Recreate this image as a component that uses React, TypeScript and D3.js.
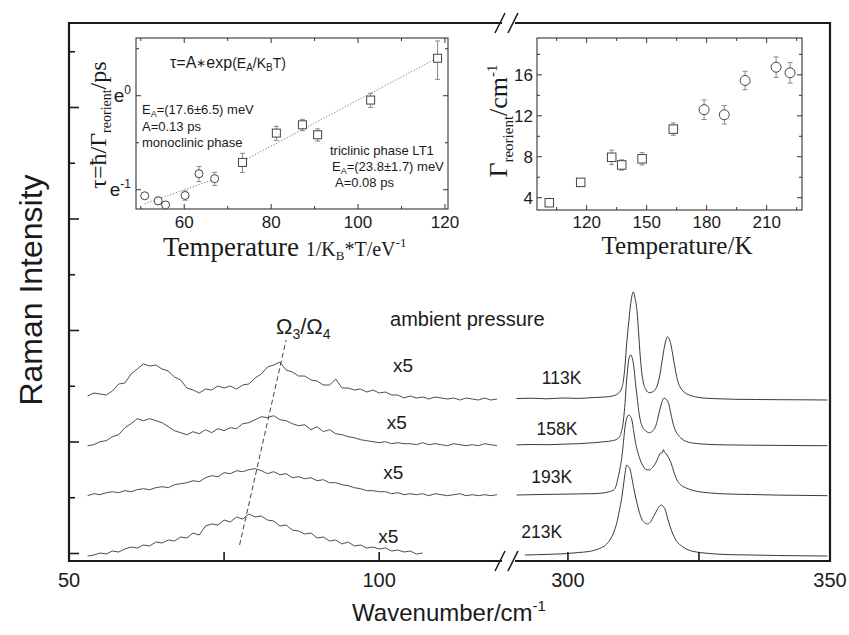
import React, { useEffect, useRef } from "react";
import * as d3 from "d3";

// ---- main panel: Raman spectra (arbitrary intensity units) ----
// low-frequency part, drawn x5, sampled every 1 cm-1
const lowWavenumbers = [
  53, 54, 55, 56, 57, 58, 59, 60, 61, 62, 63, 64, 65, 66, 67, 68, 69, 70, 71, 72,
  73, 74, 75, 76, 77, 78, 79, 80, 81, 82, 83, 84, 85, 86, 87, 88, 89, 90, 91, 92,
  93, 94, 95, 96, 97, 98, 99, 100, 101, 102, 103, 104, 105, 106, 107, 108, 109,
  110, 111, 112, 113, 114, 115, 116, 117, 118, 119,
];
const low113K = [
  4, 7, 6, 5, 9, 16, 17, 26, 31, 36, 34, 35, 31, 29, 23, 20, 12, 10, 7, 11,
  10, 14, 12, 14, 11, 15, 16, 22, 26, 33, 35, 38, 30, 28, 24, 24, 20, 19, 15, 15,
  21, 12, 12, 10, 11, 8, 10, 7, 8, 5, 5, 2, 4, 2, 3, 1, 3, 2, 1, 2, 0, 2, 1, 0, 2, 0, 1,
];
const low158K = [
  0, 1, 4, 5, 9, 11, 18, 22, 27, 25, 27, 25, 23, 19, 15, 13, 11, 14, 12, 16,
  13, 17, 15, 18, 17, 22, 23, 26, 29, 28, 30, 26, 25, 22, 20, 21, 16, 19, 14, 16,
  12, 11, 9, 8, 6, 5, 4, 3, 4, 2, 3, 2, 2, 1, 3, 1, 2, 1, 0, 2, 1, 0, 1, 0, 2, 1, 0,
];
const low193K = [
  0, 2, 1, 3, 4, 3, 5, 4, 6, 7, 6, 8, 9, 8, 11, 12, 13, 15, 14, 18,
  20, 19, 23, 22, 25, 24, 26, 27, 25, 22, 24, 21, 22, 18, 19, 17, 18, 15, 16, 13,
  13, 11, 10, 8, 7, 5, 5, 4, 4, 2, 3, 1, 2, 1, 2, 0, 2, 1, 0, 1, 2, 0, 1, 0, 1, 0, 1,
];
const low213K = [
  -1, 0, 2, 1, 4, 3, 6, 8, 7, 10, 9, 13, 12, 15, 14, 18, 17, 22, 20, 29,
  31, 30, 35, 33, 38, 36, 41, 38, 39, 35, 34, 29, 30, 25, 24, 21, 22, 17, 18, 14,
  15, 11, 13, 9, 10, 7, 8, 6, 7, 4, 5, 3, 4, 1, 2,
];

// high-frequency part: [wavenumber, intensity above the trace baseline]
const high113K = [
  [290.2, 1.5], [293, 1.8], [296, 1.2], [299, 2], [302, 1.6], [305, 2.5], [307, 3], [308.5, 4],
  [309.6, 6.7], [310.2, 11], [310.6, 20], [310.9, 35], [311.2, 56], [311.6, 78], [311.9, 93],
  [312.2, 104], [312.5, 108], [312.8, 102], [313.2, 88], [313.5, 66], [313.8, 43], [314.1, 27],
  [314.4, 17], [314.9, 10], [315.5, 7.3], [316.1, 8], [316.6, 10], [317, 14], [317.5, 24],
  [317.9, 37], [318.3, 50], [318.6, 58], [319, 63], [319.4, 60], [319.7, 54], [320.1, 42],
  [320.5, 30], [321, 18], [321.5, 12], [322.4, 7], [323.4, 4.5], [325, 2.5], [326.6, 1.7],
  [329, 1.2], [332, 0.7], [336, 0.5], [340, 0.3], [345, 0.2], [349.5, 0],
];
const high158K = [
  [290.2, 0.8], [293, 1.2], [296, 1], [299, 1.5], [302, 2], [305, 3], [307, 4], [308.5, 5],
  [309.6, 7.4], [310.2, 14], [310.6, 25.7], [310.9, 43], [311.2, 65.7], [311.5, 82], [311.8, 90],
  [312, 90.7], [312.3, 87], [312.6, 78], [312.9, 62], [313.2, 49], [313.5, 35], [313.8, 25.7],
  [314.3, 18], [314.8, 15], [315.5, 13], [316.1, 14.5], [316.7, 19], [317.1, 26], [317.5, 35.7],
  [317.9, 43], [318.2, 47], [318.5, 47.4], [318.8, 46], [319.2, 42.4], [319.6, 33], [319.9, 25.7],
  [320.3, 18], [320.8, 12.4], [321.5, 8], [322.7, 4], [324.5, 2.2], [326.6, 1.4], [330, 0.8],
  [335, 0.5], [340, 0.3], [345, 0.1], [349.5, 0],
];
const high193K = [
  [290.2, 0.7], [293, 1], [296, 1.3], [299, 1.5], [302, 1.8], [304.5, 2], [306.1, 2.4],
  [307.5, 3.5], [308.7, 5.7], [309.2, 10], [309.6, 19], [310, 29], [310.3, 39], [310.6, 54],
  [310.9, 69], [311.2, 77], [311.6, 80.7], [311.9, 79.5], [312.2, 75.7], [312.5, 66], [312.8, 55.7],
  [313.3, 44], [313.8, 35.7], [314.3, 30], [314.8, 26.4], [315.5, 25.7], [316.1, 28], [316.7, 32.4],
  [317.2, 38], [317.6, 42.4], [318, 43], [318.2, 46], [318.4, 44], [318.7, 42], [318.9, 40.7],
  [319.3, 37], [319.7, 32.4], [320.2, 24], [320.8, 15.7], [321.5, 11], [322.7, 7.4], [324.5, 4.5],
  [326.6, 3], [330, 1.8], [335, 1.2], [340, 0.6], [345, 0.3], [349.5, 0],
];
const high213K = [
  [291.8, 0], [294, 0.3], [297, 0.8], [300, 1.5], [302, 2.5], [304, 3.5], [306.1, 6.7],
  [307.2, 10], [308, 15], [308.7, 22], [309.3, 31.7], [309.8, 44], [310.3, 58.3], [310.6, 70],
  [310.9, 81.7], [311.2, 90], [311.6, 88], [311.9, 85], [312.2, 77], [312.5, 68.3], [313, 56],
  [313.5, 45], [314, 37], [314.4, 33.3], [315.2, 31], [315.8, 33.5], [316.3, 38.3], [316.8, 43],
  [317.3, 47.7], [317.8, 50], [318.2, 48.5], [318.6, 45], [319, 37], [319.5, 28.3], [320.1, 20],
  [320.8, 13.3], [321.7, 9], [322.7, 5.7], [324.5, 3], [326.6, 1.7], [330, 0.5], [335, 0],
  [340, -0.5], [345, -0.8], [349.5, -1],
];

const traceNames = ["113K", "158K", "193K", "213K"];
const traceOffsets = [153.5, 107.8, 57.8, -1.5];
const lowSpectra = [low113K, low158K, low193K, low213K];
const highSpectra = [high113K, high158K, high193K, high213K];

// label anchors in data units
const magnifyLabelPos = [[103.85, 181.5], [102.83, 124.8], [102.28, 74.2], [101.48, 10.8]];
const tempLabelPos = [[298.8, 169.2], [297.9, 118.2], [296.9, 70.8], [295.0, 15.8]];
const omegaGuide = [[77.5, 8.5], [85.0, 213.5]];

const intensityTicks = [0, 55.75, 111.5, 167.25, 223, 278.75, 334.5, 390.25, 446, 501.75];
const lowTicks = [50, 75, 100];
const highTicks = [300, 325, 350];
const wnLabels = [50, 100, 300, 350];

// ---- left inset: tau vs 1/kT ----
const monoInvT = [50.9, 54.0, 55.7, 60.2, 63.4, 67.0];
const monoTau = [0.345, 0.327, 0.313, 0.346, 0.436, 0.414];
const monoTauErr = [0.01, 0.013, 0.01, 0.017, 0.035, 0.029];
const triInvT = [73.4, 81.2, 87.2, 90.7, 102.9, 118.3];
const triTau = [0.492, 0.672, 0.734, 0.66, 0.955, 1.49];
const triTauErr = [0.05, 0.05, 0.044, 0.043, 0.072, 0.3];
const monoFit = [[50.9, 0.317], [67.1, 0.412]];
const triFit = [[74.4, 0.51], [118.9, 1.519]];
const invTTicks = [60, 80, 100, 120];
const invTMinor = [50, 70, 90, 110];
const tauTicks = [Math.exp(-1), 1];
const tauTickLabels = ["-1", "0"];
const tauMinor = [Math.exp(-0.5), Math.exp(0.5)];

// ---- right inset: Gamma vs T ----
const triT = [101.3, 117, 132.5, 137.5, 147.7, 163.3];
const triGamma = [3.51, 5.5, 7.95, 7.2, 7.8, 10.7];
const triGammaErr = [0, 0, 0.7, 0.5, 0.6, 0.6];
const monoT = [178.7, 188.8, 199.2, 214.7, 221.7];
const monoGamma = [12.6, 12.1, 15.45, 16.75, 16.2];
const monoGammaErr = [0.95, 0.9, 0.9, 1.0, 1.0];
const tempTicks = [120, 150, 180, 210];
const tempMinor = [105, 135, 165, 195, 225];
const gammaTicks = [4, 8, 12, 16];
const gammaMinor = [6, 10, 14, 18];

const W = 849;
const H = 635;
const sans = "'Liberation Sans', Arial, sans-serif";
const serif = "'Liberation Serif', 'Times New Roman', serif";
const ink = "#1b1b1b";
const trace = "#3a3a3a";

// text made of runs: [text, fontSize, baseline shift (px, + is down)]
function rich(parent, runs) {
  const t = parent.append("text");
  let cur = 0;
  runs.forEach(([s, size, shift]) => {
    t.append("tspan").attr("font-size", size).attr("dy", shift - cur).text(s);
    cur = shift;
  });
  return t;
}

function drawMain(svg) {
  const xLow = d3.scaleLinear().domain([50, 119.8]).range([69, 502]);
  const xHigh = d3.scaleLinear().domain([289.9, 350]).range([515, 830]);
  const yMain = d3.scaleLinear().domain([-7.5, 530.5]).range([561, 23]);
  const g = svg.append("g");

  // spectra
  const lowLine = d3.line().x((d) => xLow(d[0])).y((d) => yMain(d[1]));
  lowSpectra.forEach((vals, i) => {
    const pts = vals.map((v, j) => [lowWavenumbers[j], v + traceOffsets[i]]);
    g.append("path").attr("d", lowLine(pts)).attr("fill", "none")
      .attr("stroke", trace).attr("stroke-width", 0.9);
  });
  const highLine = d3.line().x((d) => xHigh(d[0])).y((d) => yMain(d[1])).curve(d3.curveMonotoneX);
  highSpectra.forEach((pts, i) => {
    g.append("path").attr("d", highLine(pts.map((p) => [p[0], p[1] + traceOffsets[i]])))
      .attr("fill", "none").attr("stroke", trace).attr("stroke-width", 1);
  });

  // dashed guide for the Omega3/Omega4 mode
  g.append("path").attr("d", lowLine(omegaGuide)).attr("stroke", "#444")
    .attr("stroke-width", 1).attr("stroke-dasharray", "5,3").attr("fill", "none");

  // frame with broken top/bottom
  const [fx0, fx1] = [xLow.range()[0], xHigh.range()[1]];
  const [fyB, fyT] = yMain.range();
  const frame = g.append("g").attr("stroke", ink).attr("stroke-width", 2.2).attr("fill", "none");
  frame.append("line").attr("x1", fx0).attr("x2", fx0).attr("y1", fyT - 1).attr("y2", fyB + 1);
  frame.append("line").attr("x1", fx1).attr("x2", fx1).attr("y1", fyT - 1).attr("y2", fyB + 1);
  [fyT, fyB].forEach((y) => {
    frame.append("line").attr("x1", fx0).attr("x2", xLow.range()[1]).attr("y1", y).attr("y2", y);
    frame.append("line").attr("x1", xHigh.range()[0]).attr("x2", fx1).attr("y1", y).attr("y2", y);
    [xLow.range()[1] - 2, xHigh.range()[0] - 2].forEach((cx) => {
      frame.append("line").attr("x1", cx - 5).attr("y1", y + 10).attr("x2", cx + 5).attr("y2", y - 10)
        .attr("stroke-width", 1.6);
    });
  });

  // ticks (inward)
  const ticks = g.append("g").attr("stroke", ink).attr("stroke-width", 1.6);
  intensityTicks.forEach((v, i) => {
    const len = i % 2 === 0 ? 10 : 6;
    ticks.append("line").attr("x1", fx0).attr("x2", fx0 + len).attr("y1", yMain(v)).attr("y2", yMain(v));
  });
  lowTicks.forEach((v) => ticks.append("line").attr("x1", xLow(v)).attr("x2", xLow(v)).attr("y1", fyB).attr("y2", fyB - 9));
  highTicks.forEach((v) => ticks.append("line").attr("x1", xHigh(v)).attr("x2", xHigh(v)).attr("y1", fyB).attr("y2", fyB - 9));

  const labels = g.append("g").attr("font-family", sans).attr("fill", ink);
  wnLabels.forEach((v) => {
    const x = v < 200 ? xLow(v) : xHigh(v);
    labels.append("text").attr("x", x).attr("y", 587).attr("text-anchor", "middle")
      .attr("font-size", 20).text(v);
  });
  rich(labels, [["Wavenumber/cm", 24, 0], ["-1", 15, -10]])
    .attr("x", 449).attr("y", 621).attr("text-anchor", "middle");
  labels.append("text").attr("transform", "translate(42,290) rotate(-90)")
    .attr("text-anchor", "middle").attr("font-size", 32).text("Raman Intensity");

  magnifyLabelPos.forEach((p) => {
    labels.append("text").attr("x", xLow(p[0])).attr("y", yMain(p[1]))
      .attr("text-anchor", "middle").attr("font-size", 19).text("x5");
  });
  tempLabelPos.forEach((p, i) => {
    labels.append("text").attr("x", xHigh(p[0])).attr("y", yMain(p[1]))
      .attr("text-anchor", "middle").attr("font-size", 17.5).text(traceNames[i]);
  });
  labels.append("text").attr("x", xLow(101.75)).attr("y", yMain(227.5))
    .attr("font-size", 20).text("ambient pressure");
  rich(labels, [["Ω", 22, 0], ["3", 14, 5], ["/Ω", 22, 0], ["4", 14, 5]])
    .attr("x", xLow(83.37)).attr("y", yMain(219.5));
}

function insetFrame(g, x, y, xMajor, xMinor, yMajor, yMinor) {
  const [x0, x1] = x.range();
  const [y0, y1] = y.range();
  g.append("rect").attr("x", x0).attr("y", y1).attr("width", x1 - x0).attr("height", y0 - y1)
    .attr("fill", "none").attr("stroke", "#333").attr("stroke-width", 1.1);
  const t = g.append("g").attr("stroke", "#333").attr("stroke-width", 1);
  const vt = (v, len) => {
    t.append("line").attr("x1", x(v)).attr("x2", x(v)).attr("y1", y0).attr("y2", y0 - len);
    t.append("line").attr("x1", x(v)).attr("x2", x(v)).attr("y1", y1).attr("y2", y1 + len);
  };
  const ht = (v, len) => {
    t.append("line").attr("y1", y(v)).attr("y2", y(v)).attr("x1", x0).attr("x2", x0 + len);
    t.append("line").attr("y1", y(v)).attr("y2", y(v)).attr("x1", x1).attr("x2", x1 - len);
  };
  xMajor.forEach((v) => vt(v, 5));
  xMinor.forEach((v) => vt(v, 3));
  yMajor.forEach((v) => ht(v, 5));
  yMinor.forEach((v) => ht(v, 3));
}

function errorBars(g, xs, ys, errs, x, y) {
  xs.forEach((xv, i) => {
    if (!errs[i]) return;
    const top = y(ys[i] + errs[i]);
    const bot = y(ys[i] - errs[i]);
    const cx = x(xv);
    g.append("line").attr("x1", cx).attr("x2", cx).attr("y1", top).attr("y2", bot);
    g.append("line").attr("x1", cx - 2.5).attr("x2", cx + 2.5).attr("y1", top).attr("y2", top);
    g.append("line").attr("x1", cx - 2.5).attr("x2", cx + 2.5).attr("y1", bot).attr("y2", bot);
  });
}

function markers(g, xs, ys, x, y, shape, size) {
  xs.forEach((xv, i) => {
    const cx = x(xv);
    const cy = y(ys[i]);
    if (shape === "circle") {
      g.append("circle").attr("cx", cx).attr("cy", cy).attr("r", size / 2);
    } else {
      g.append("rect").attr("x", cx - size / 2).attr("y", cy - size / 2).attr("width", size).attr("height", size);
    }
  });
}

function drawTauInset(svg) {
  const x = d3.scaleLinear().domain([48.9, 120.7]).range([136, 448]);
  const y = d3.scaleLog().base(Math.E).domain([0.2997, 1.848]).range([209, 38]);
  const g = svg.append("g");
  insetFrame(g, x, y, invTTicks, invTMinor, tauTicks, tauMinor);

  const fit = d3.line().x((d) => x(d[0])).y((d) => y(d[1]));
  [monoFit, triFit].forEach((f) => {
    g.append("path").attr("d", fit(f)).attr("fill", "none").attr("stroke", "#777")
      .attr("stroke-width", 1).attr("stroke-dasharray", "1.2,1.8");
  });
  const eb = g.append("g").attr("stroke", "#888").attr("stroke-width", 1);
  errorBars(eb, monoInvT, monoTau, monoTauErr, x, y);
  errorBars(eb, triInvT, triTau, triTauErr, x, y);
  const mk = g.append("g").attr("fill", "#fff").attr("stroke", "#444").attr("stroke-width", 1);
  markers(mk, monoInvT, monoTau, x, y, "circle", 8);
  markers(mk, triInvT, triTau, x, y, "square", 8);

  const lab = g.append("g").attr("font-family", sans).attr("fill", ink);
  invTTicks.forEach((v) => {
    lab.append("text").attr("x", x(v)).attr("y", 228).attr("text-anchor", "middle")
      .attr("font-size", 17).text(v);
  });
  tauTicks.forEach((v, i) => {
    rich(lab, [["e", 19, 0], [tauTickLabels[i], 12, -8]])
      .attr("x", 131).attr("y", y(v) + 6).attr("text-anchor", "end");
  });
  rich(lab, [["τ=A", 16, 0], ["∗", 12, -1], ["exp", 16, 0], ["(E", 14, 0], ["A", 10, 3], ["/K", 14, 0], ["B", 10, 3], ["T)", 14, 0]])
    .attr("x", 170).attr("y", 68);
  rich(lab, [["E", 13, 0], ["A", 9, 3], ["=(17.6±6.5) meV", 13, 0]]).attr("x", 142).attr("y", 114);
  lab.append("text").attr("x", 142).attr("y", 131).attr("font-size", 13).text("A=0.13 ps");
  lab.append("text").attr("x", 142).attr("y", 147).attr("font-size", 13).text("monoclinic phase");
  lab.append("text").attr("x", 330).attr("y", 155).attr("font-size", 13).text("triclinic phase LT1");
  rich(lab, [["E", 13, 0], ["A", 9, 3], ["=(23.8±1.7) meV", 13, 0]]).attr("x", 332).attr("y", 171);
  lab.append("text").attr("x", 335).attr("y", 187).attr("font-size", 13).text("A=0.08 ps");

  const ser = g.append("g").attr("font-family", serif).attr("fill", ink);
  rich(ser, [["τ=ħ/Γ", 24, 0], ["reorient", 14, 5], ["/ps", 24, 0]])
    .attr("transform", "translate(106,125) rotate(-90)").attr("text-anchor", "middle");
  rich(ser, [["Temperature ", 27, 0], ["1/K", 20, 0], ["B", 13, 4], ["*T/eV", 20, 0], ["-1", 13, -9]])
    .attr("x", 163).attr("y", 256);
}

function drawGammaInset(svg) {
  const x = d3.scaleLinear().domain([95.15, 227.65]).range([537, 802]);
  const y = d3.scaleLinear().domain([2.8, 19.6]).range([210, 38]);
  const g = svg.append("g");
  insetFrame(g, x, y, tempTicks, tempMinor, gammaTicks, gammaMinor);

  const eb = g.append("g").attr("stroke", "#888").attr("stroke-width", 1);
  errorBars(eb, triT, triGamma, triGammaErr, x, y);
  errorBars(eb, monoT, monoGamma, monoGammaErr, x, y);
  const mk = g.append("g").attr("fill", "#fff").attr("stroke", "#444").attr("stroke-width", 1);
  markers(mk, triT, triGamma, x, y, "square", 8.5);
  markers(mk, monoT, monoGamma, x, y, "circle", 10);

  const lab = g.append("g").attr("font-family", sans).attr("fill", ink);
  tempTicks.forEach((v) => {
    lab.append("text").attr("x", x(v)).attr("y", 228).attr("text-anchor", "middle")
      .attr("font-size", 17).text(v);
  });
  gammaTicks.forEach((v) => {
    lab.append("text").attr("x", 533).attr("y", y(v) + 6).attr("text-anchor", "end")
      .attr("font-size", 17).text(v);
  });
  const ser = g.append("g").attr("font-family", serif).attr("fill", ink);
  rich(ser, [["Γ", 26, 0], ["reorient", 15, 6], ["/cm", 26, 0], ["-1", 15, -10]])
    .attr("transform", "translate(507,121) rotate(-90)").attr("text-anchor", "middle");
  ser.append("text").attr("x", 677).attr("y", 254).attr("text-anchor", "middle")
    .attr("font-size", 25).text("Temperature/K");
}

export default function App() {
  const svgRef = useRef(null);

  useEffect(() => {
    const svg = d3.select(svgRef.current);
    svg.selectAll("*").remove();
    drawMain(svg);
    drawTauInset(svg);
    drawGammaInset(svg);
  }, []);

  return (
    <svg
      ref={svgRef}
      width={W}
      height={H}
      style={{ position: "absolute", left: 0, top: 0, background: "#fff" }}
    />
  );
}
